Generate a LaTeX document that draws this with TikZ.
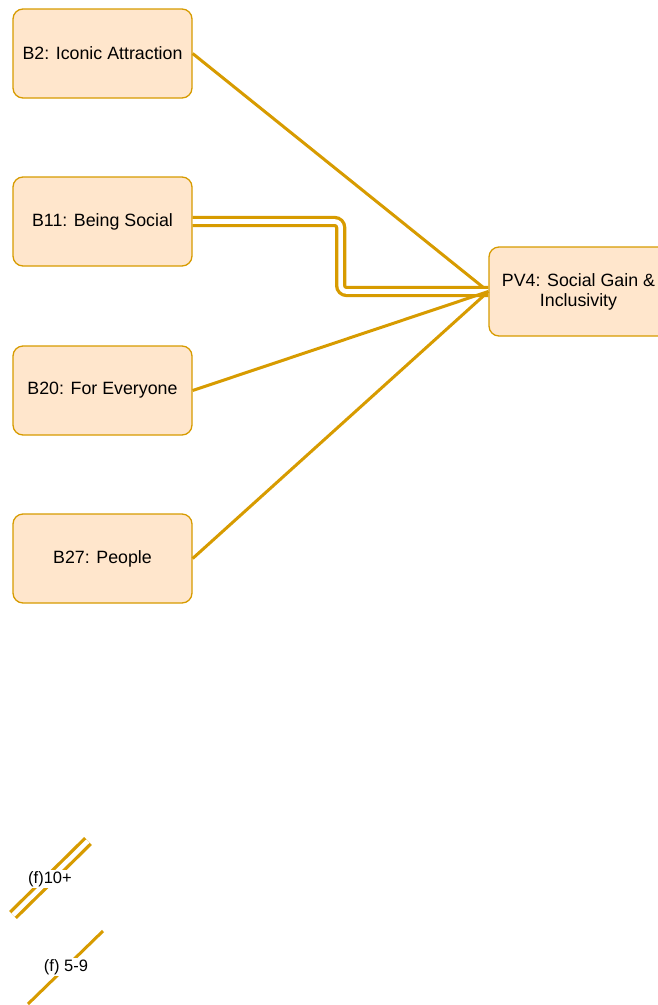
\documentclass[tikz,border=0pt]{standalone}
\usepackage{fontspec}
\setmainfont{Liberation Sans}
\definecolor{edgeor}{HTML}{D79B00}
\definecolor{boxfill}{HTML}{FFE6CC}
\begin{document}
\begin{tikzpicture}[x=1pt,y=-1pt,
  box/.style={draw=edgeor,fill=boxfill,line width=1.3pt,rounded corners=10pt,
    minimum width=179pt,minimum height=89pt,inner sep=2pt,align=center,
    font=\fontsize{17.8}{20}\selectfont},
  edge/.style={draw=edgeor,line width=3pt},
  dbl/.style={draw=edgeor,line width=3.3pt,double=white,double distance=4.6pt,rounded corners=6pt},
  legend/.style={fill=white,inner sep=1.5pt,font=\fontsize{16.5}{19}\selectfont}]
\useasboundingbox (0,0) rectangle (658,1005);
\node[box] (B2) at (102.5,53.5) {B2: Iconic Attraction};
\node[box] (B11) at (102.5,221.5) {B11: Being Social};
\node[box] (B20) at (102.5,390.5) {B20: For Everyone};
\node[box] (B27) at (102.5,558.5) {B27: People};
\node[box] (PV4) at (578.5,291.5) {PV4: Social Gain \&\\Inclusivity};
\draw[edge] (B2.east) -- (PV4.west);
\draw[dbl] (B11.east) -- ++(148,0) |- (PV4.west);
\draw[edge] (B20.east) -- (PV4.west);
\draw[edge] (B27.east) -- (PV4.west);
% legend
\coordinate (l1a) at (13,915);
\coordinate (l1b) at (88,841);
\draw[dbl] (l1a) -- (l1b);
\node[legend] (t1) at (50,879) {(f)10+};
\coordinate (l2a) at (28,1004);
\coordinate (l2b) at (103,931);
\draw[edge] (l2a) -- (l2b);
\node[legend] (t2) at (66,967) {(f) 5-9};
\end{tikzpicture}
\end{document}
